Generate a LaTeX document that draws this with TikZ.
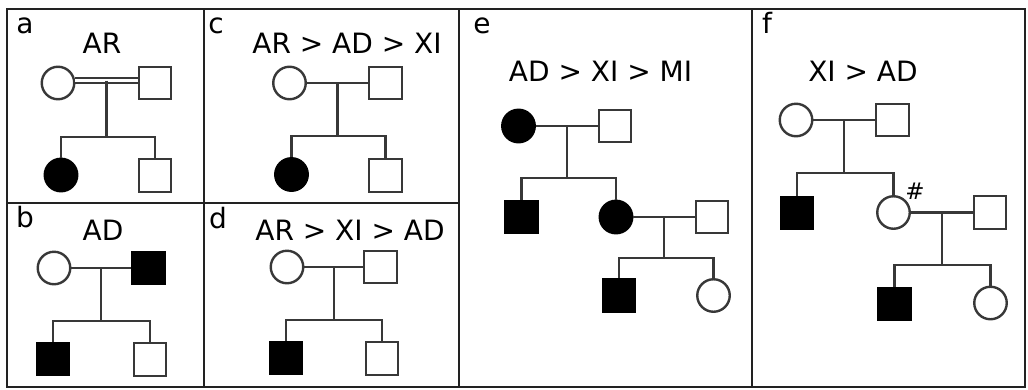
\documentclass[tikz,border=0pt]{standalone}
\usepackage{fontspec}
\setmainfont{DejaVu Sans}
\usetikzlibrary{calc}
\definecolor{linegray}{HTML}{383838}
\definecolor{framegray}{HTML}{222222}
\begin{document}
\begin{tikzpicture}[x=1pt,y=-1pt,
  ln/.style={draw=linegray,line width=2.4pt},
  dbl/.style={draw=linegray,line width=1.9pt,double=white,double distance=3pt},
  fem/.style={circle,draw=linegray,line width=2.4pt,minimum size=32.5pt,inner sep=0pt,fill=white},
  mal/.style={rectangle,draw=linegray,line width=2.4pt,minimum size=32.5pt,inner sep=0pt,fill=white},
  aff/.style={fill=black,draw=black},
  frame/.style={draw=framegray,line width=2.8pt},
  ttl/.style={font=\fontsize{28}{34}\selectfont,anchor=base,inner sep=0pt,text=black},
  hashlbl/.style={font=\fontsize{23}{26}\selectfont,anchor=base,inner sep=0pt,text=black}
]
\useasboundingbox (0,0) rectangle (1028,389);
\fill[white] (0,0) rectangle (1028,389);
% frames
\draw[frame] (7,9) rectangle (1025,387);
\draw[frame] (204,9) -- (204,387);
\draw[frame] (459,9) -- (459,387);
\draw[frame] (752,9) -- (752,387);
\draw[frame] (7,203) -- (459,203);

% ---------- panel a ----------
\node[ttl] (la) at (25,33) {a};
\node[ttl] (ta) at (102,53) {AR};
\node[fem] (a1) at (58,83) {};
\node[mal] (a2) at (155,83) {};
\coordinate (aJ) at ($(a1)!0.5!(a2)+(0,-2.5)$);
\coordinate (aS) at ($(aJ)+(0,56.5)$);
\node[fem,aff] (a3) at (61,175) {};
\node[mal] (a4) at (155,175.5) {};
\draw[dbl] (a1.east |- aJ) -- (a2.west |- aJ);
\draw[ln] (aJ) -- (aS);
\draw[ln] (a3.north) -- (a3.north |- aS) -- (a4.north |- aS) -- (a4.north);

% ---------- panel b ----------
\node[ttl] (lb) at (25,227) {b};
\node[ttl] (tb) at (103,240) {AD};
\node[fem] (b1) at (54,268) {};
\node[mal,aff] (b2) at (148.5,268) {};
\coordinate (bJ) at ($(b1)!0.5!(b2)$);
\coordinate (bS) at ($(bJ)+(0,53)$);
\node[mal,aff] (b3) at (53,359) {};
\node[mal] (b4) at (150,359.5) {};
\draw[ln] (b1.east) -- (b2.west);
\draw[ln] (bJ) -- (bS);
\draw[ln] (b3.north) -- (b3.north |- bS) -- (b4.north |- bS) -- (b4.north);

% ---------- panel c ----------
\node[ttl] (lc) at (216,33) {c};
\node[ttl] (tc) at (347,53) {AR > AD > XI};
\node[fem] (c1) at (289.5,83) {};
\node[mal] (c2) at (385.5,83) {};
\coordinate (cJ) at ($(c1)!0.5!(c2)$);
\coordinate (cS) at ($(cJ)+(0,53)$);
\node[fem,aff] (c3) at (291.5,174.5) {};
\node[mal] (c4) at (385.5,175.5) {};
\draw[ln] (c1.east) -- (c2.west);
\draw[ln] (cJ) -- (cS);
\draw[ln] (c3.north) -- (c3.north |- cS) -- (c4.north |- cS) -- (c4.north);

% ---------- panel d ----------
\node[ttl] (ld) at (218,228) {d};
\node[ttl] (td) at (350,240) {AR > XI > AD};
\node[fem] (d1) at (287,267) {};
\node[mal] (d2) at (380.5,267) {};
\coordinate (dJ) at ($(d1)!0.5!(d2)$);
\coordinate (dS) at ($(dJ)+(0,53)$);
\node[mal,aff] (d3) at (286,358) {};
\node[mal] (d4) at (382,358.5) {};
\draw[ln] (d1.east) -- (d2.west);
\draw[ln] (dJ) -- (dS);
\draw[ln] (d3.north) -- (d3.north |- dS) -- (d4.north |- dS) -- (d4.north);

% ---------- panel e ----------
\node[ttl] (le) at (482,33) {e};
\node[ttl] (te) at (600.5,81) {AD > XI > MI};
\node[fem,aff] (e1) at (518.5,126) {};
\node[mal] (e2) at (615,126) {};
\coordinate (eJ) at ($(e1)!0.5!(e2)$);
\coordinate (eS) at ($(eJ)+(0,52)$);
\node[mal,aff] (e3) at (521.5,217) {};
\node[fem,aff] (e4) at (616,217) {};
\node[mal] (e5) at (712,217) {};
\coordinate (eJ2) at ($(e4)!0.5!(e5)$);
\coordinate (eS2) at ($(eJ2)+(0,41)$);
\node[mal,aff] (e6) at (619,295.5) {};
\node[fem] (e7) at (713.5,295.5) {};
\draw[ln] (e1.east) -- (e2.west);
\draw[ln] (eJ) -- (eS);
\draw[ln] (e3.north) -- (e3.north |- eS) -- (e4.north |- eS) -- (e4.north);
\draw[ln] (e4.east) -- (e5.west);
\draw[ln] (eJ2) -- (eS2);
\draw[ln] (e6.north) -- (e6.north |- eS2) -- (e7.north |- eS2) -- (e7.north);

% ---------- panel f ----------
\node[ttl] (lf) at (767,33) {f};
\node[ttl] (tf) at (863,81) {XI > AD};
\node[fem] (f1) at (796,120) {};
\node[mal] (f2) at (892.5,120) {};
\coordinate (fJ) at ($(f1)!0.5!(f2)$);
\coordinate (fS) at ($(fJ)+(0,53)$);
\node[mal,aff] (f3) at (797,213) {};
\node[fem] (f4) at (893.5,212.5) {};
\node[mal] (f5) at (990,212.5) {};
\coordinate (fJ2) at ($(f4)!0.5!(f5)$);
\coordinate (fS2) at ($(fJ2)+(0,52.5)$);
\node[mal,aff] (f6) at (894.5,304) {};
\node[fem] (f7) at (990.5,303) {};
\node[hashlbl] (fh) at (915,199) {\#};
\draw[ln] (f1.east) -- (f2.west);
\draw[ln] (fJ) -- (fS);
\draw[ln] (f3.north) -- (f3.north |- fS) -- (f4.north |- fS) -- (f4.north);
\draw[ln] (f4.east) -- (f5.west);
\draw[ln] (fJ2) -- (fS2);
\draw[ln] (f6.north) -- (f6.north |- fS2) -- (f7.north |- fS2) -- (f7.north);
\end{tikzpicture}
\end{document}
